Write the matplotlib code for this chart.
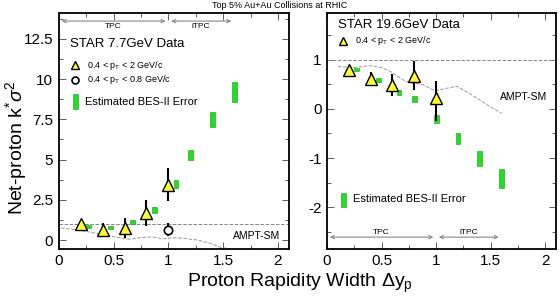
import matplotlib.pyplot as plt
from matplotlib.ticker import MultipleLocator

plt.rcParams["font.family"] = ["Liberation Sans", "DejaVu Sans"]
plt.rcParams["mathtext.fontset"] = "custom"
plt.rcParams["mathtext.rm"] = "Liberation Sans"
plt.rcParams["mathtext.it"] = "Liberation Sans:italic"
plt.rcParams["mathtext.sf"] = "Liberation Sans"
plt.rcParams["axes.unicode_minus"] = False

# 7.7 GeV
dy_77 = [0.2, 0.4, 0.6, 0.8, 1.0]
k_77 = [1.0, 0.6, 0.75, 1.7, 3.4]
err_lo_77 = [0.15, 0.4, 0.6, 0.8, 1.0]
err_hi_77 = [0.15, 0.45, 0.65, 0.8, 1.1]
circ_dy = [1.0]
circ_k = [0.65]
circ_err = [0.4]
bes_dy_77 = [0.27, 0.47, 0.67, 0.87, 1.07, 1.2, 1.4, 1.6]
bes_k_77 = [0.83, 0.8, 1.1, 1.85, 3.5, 5.3, 7.5, 9.2]
bes_err_77 = [0.08, 0.1, 0.12, 0.18, 0.25, 0.3, 0.45, 0.6]
ampt_x_77 = [0.02, 0.15, 0.28, 0.42, 0.55, 0.64, 0.75, 0.85, 0.95, 1.05, 1.15, 1.27, 1.38, 1.48, 1.6]
ampt_y_77 = [0.75, 0.65, 0.5, 0.3, 0.15, 0.05, 0.15, 0.2, 0.08, 0.15, 0.1, 0.0, -0.2, -0.45, -0.6]

# 19.6 GeV
dy_196 = [0.2, 0.4, 0.6, 0.8, 1.0]
k_196 = [0.79, 0.6, 0.48, 0.66, 0.22]
err_lo_196 = [0.05, 0.1, 0.21, 0.28, 0.47]
err_hi_196 = [0.05, 0.15, 0.22, 0.31, 0.35]
bes_dy_196 = [0.27, 0.47, 0.66, 0.8, 1.0, 1.2, 1.4, 1.6]
bes_k_196 = [0.8, 0.59, 0.34, 0.2, -0.2, -0.6, -1.01, -1.41]
bes_err_196 = [0.03, 0.04, 0.05, 0.06, 0.08, 0.11, 0.15, 0.19]
ampt_x_196 = [0.1, 0.25, 0.39, 0.5, 0.58, 0.65, 0.72, 0.8, 0.88, 0.99, 1.1, 1.19, 1.3, 1.4, 1.5, 1.6]
ampt_y_196 = [0.86, 0.84, 0.88, 0.84, 0.76, 0.66, 0.56, 0.52, 0.49, 0.37, 0.42, 0.46, 0.32, 0.18, 0.04, -0.09]

green = "#22dd22"
tri_kw = dict(fmt="^", color="black", mfc="#ffff33", mec="black", ms=8.5, mew=1.0,
              elinewidth=1.5, capsize=0, zorder=4)

fig = plt.figure(figsize=(5.6, 2.96), dpi=100)
ax1 = fig.add_axes([0.105, 0.159, 0.411, 0.797])
ax2 = fig.add_axes([0.584, 0.159, 0.409, 0.797])


def draw_bes(ax, xs, ys, es, w=0.022):
    for x, y, e in zip(xs, ys, es):
        ax.add_patch(plt.Rectangle((x - w, y - e), 2 * w, 2 * e, facecolor=green,
                                   edgecolor="#119911", lw=0.4, zorder=3))


def tpc_arrows(ax, y, dy_text, va):
    akw = dict(arrowstyle="<->", color="#888888", lw=0.8, mutation_scale=6)
    ax.annotate("", xy=(0, y), xytext=(1.0, y), arrowprops=akw)
    ax.annotate("", xy=(1.0, y), xytext=(1.6, y), arrowprops=akw)
    ax.text(0.5, y + dy_text, "TPC", fontsize=6, ha="center", va=va)
    ax.text(1.3, y + dy_text, "iTPC", fontsize=6, ha="center", va=va)


# left panel
ax = ax1
ax.axhline(1.0, color="#888888", ls="--", lw=0.7)
ax.plot(ampt_x_77, ampt_y_77, ls="--", color="#999999", lw=0.7)
draw_bes(ax, bes_dy_77, bes_k_77, bes_err_77)
ax.errorbar(dy_77, k_77, yerr=[err_lo_77, err_hi_77], **tri_kw)
ax.errorbar(circ_dy, circ_k, yerr=circ_err, fmt="o", color="black", mfc="white",
            ms=6, mew=1.2, elinewidth=1.5, zorder=4)
ax.set_xlim(0, 2.1)
ax.set_ylim(-0.55, 14.1)
ax.yaxis.set_minor_locator(MultipleLocator(1.25))
ax.set_yticks([0, 2.5, 5, 7.5, 10, 12.5])
ax.set_yticklabels(["0", "2.5", "5", "7.5", "10", "12.5"])
tpc_arrows(ax, 13.6, -0.1, "top")
ax.text(0.1, 12.2, "STAR 7.7GeV Data", fontsize=9.5, va="center")
ax.plot([0.15], [10.85], "^", color="black", mfc="#ffff33", ms=6)
ax.text(0.26, 10.85, r"0.4 < p$_{\rm T}$ < 2 GeV/c", fontsize=6.5, va="center")
ax.plot([0.15], [9.95], "o", color="black", mfc="white", ms=5, mew=1.2)
ax.text(0.26, 9.95, r"0.4 < p$_{\rm T}$ < 0.8 GeV/c", fontsize=6.5, va="center")
draw_bes(ax, [0.155], [8.6], [0.45])
ax.text(0.24, 8.6, "Estimated BES-II Error", fontsize=8, va="center")
ax.text(2.02, 0.25, "AMPT-SM", fontsize=7.5, ha="right", va="center")

# right panel
ax = ax2
ax.axhline(1.0, color="#888888", ls="--", lw=0.7)
ax.plot(ampt_x_196, ampt_y_196, ls="--", color="#999999", lw=0.7)
draw_bes(ax, bes_dy_196, bes_k_196, bes_err_196)
ax.errorbar(dy_196, k_196, yerr=[err_lo_196, err_hi_196], **tri_kw)
ax.set_xlim(0, 2.1)
ax.set_ylim(-2.85, 1.95)
ax.yaxis.set_major_locator(MultipleLocator(1))
ax.yaxis.set_minor_locator(MultipleLocator(0.5))
tpc_arrows(ax, -2.61, 0.03, "bottom")
ax.text(0.1, 1.7, "STAR 19.6GeV Data", fontsize=9.5, va="center")
ax.plot([0.15], [1.39], "^", color="black", mfc="#ffff33", ms=6)
ax.text(0.26, 1.39, r"0.4 < p$_{\rm T}$ < 2 GeV/c", fontsize=6.5, va="center")
draw_bes(ax, [0.15], [-1.85], [0.14])
ax.text(0.24, -1.83, "Estimated BES-II Error", fontsize=8, va="center")
ax.text(2.02, 0.25, "AMPT-SM", fontsize=7.5, ha="right", va="center")

for ax in (ax1, ax2):
    ax.xaxis.set_minor_locator(MultipleLocator(0.25))
    ax.set_xticks([0, 0.5, 1, 1.5, 2])
    ax.set_xticklabels(["0", "0.5", "1", "1.5", "2"])
    ax.tick_params(which="both", direction="in", top=True, right=True, labelsize=11,
                   width=0.6, color="#444444")
    ax.tick_params(which="major", length=5, pad=4)
    ax.tick_params(which="minor", length=3)
    for s in ax.spines.values():
        s.set_linewidth(1.3)

fig.text(0.5, 0.995, "Top 5% Au+Au Collisions at RHIC", fontsize=6.5, ha="center", va="top")
fig.text(0.535, 0.03, r"Proton Rapidity Width $\Delta$y$_{\rm p}$", fontsize=14,
         ha="center", va="baseline")
fig.text(0.005, 0.5, r"Net-proton k$^{*}\sigma^{2}$", fontsize=14, rotation=90,
         ha="left", va="center")

fig.savefig("out.png", dpi=100)
